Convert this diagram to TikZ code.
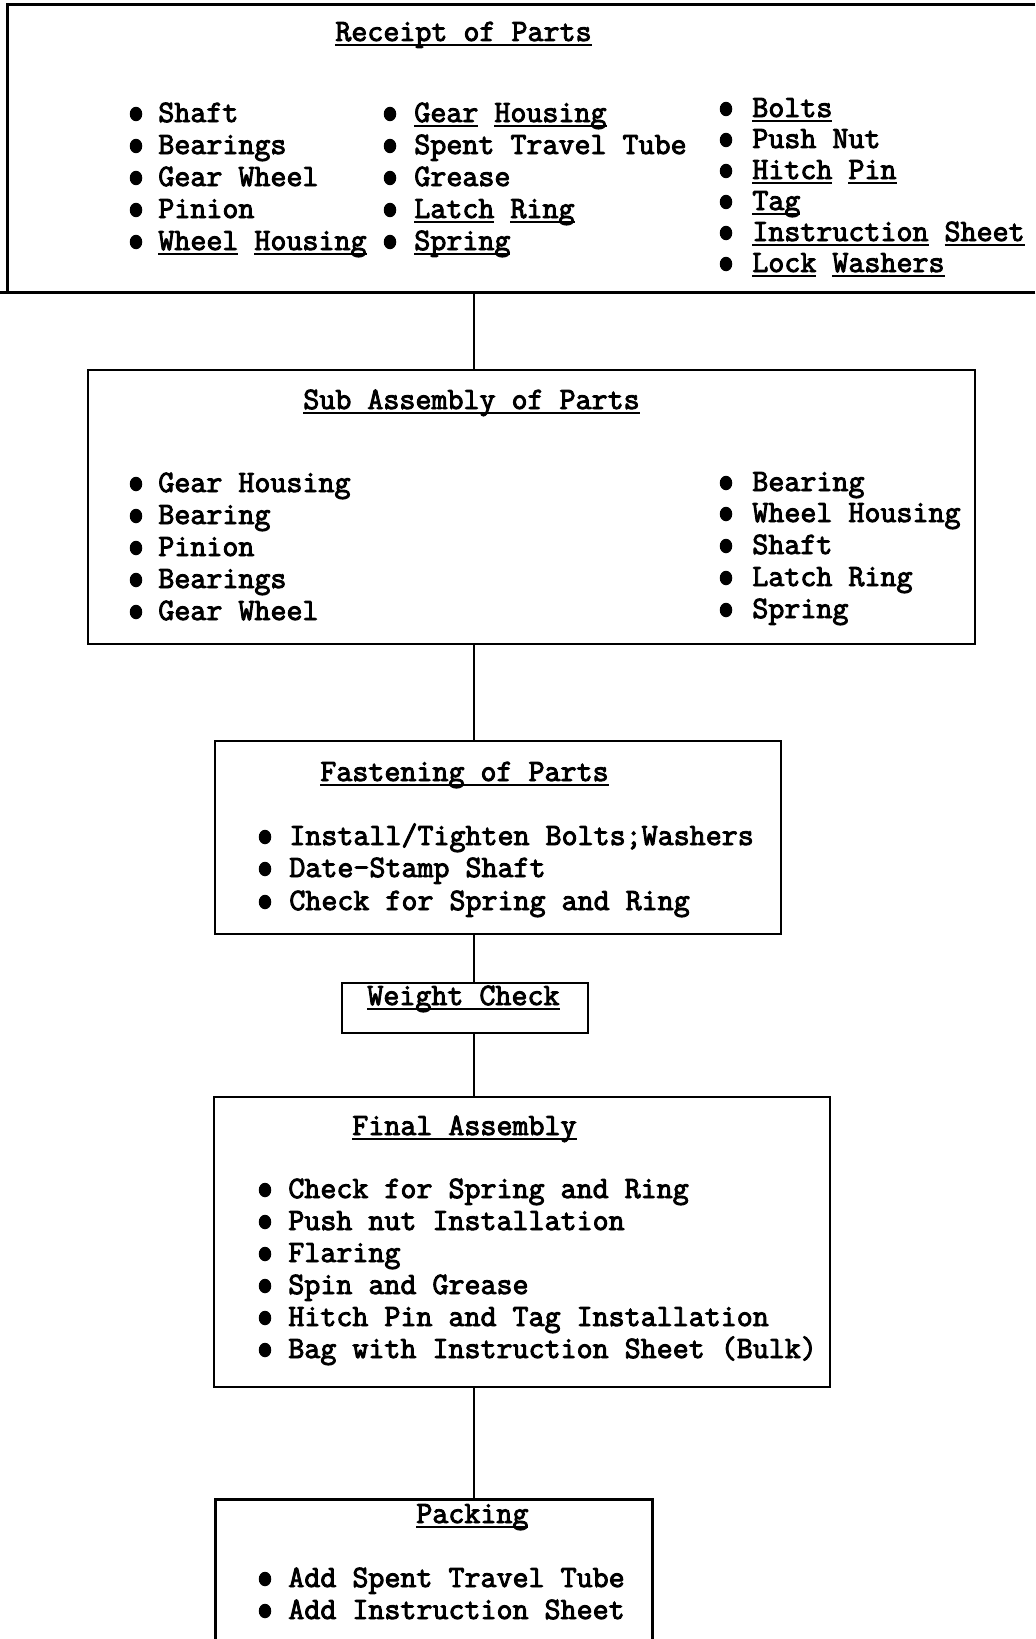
\documentclass[tikz,border=0pt]{standalone}
\usepackage{fontspec}
\setmonofont{lmmono12-regular.otf}[FakeBold=3]
\usepackage{tikz}
\usetikzlibrary{fit,shapes.geometric}

\newcommand\undr[1]{\setbox0\hbox{#1}\rlap{\rule[-3.1pt]{\wd0}{1.3pt}}#1}

\tikzset{
  box/.style={draw, line width=1.6pt, inner sep=0pt},
  frame/.style={inner sep=0pt},
  wire/.style={line width=1.5pt},
  txt/.style={anchor=base west, inner sep=0pt, font=\ttfamily\fontsize{17.7pt}{20pt}\selectfont},
  bul/.style={ellipse, fill, inner sep=0pt, minimum width=0.25cm, minimum height=0.29cm},
}

\begin{document}
\begin{tikzpicture}[x=0.02cm, y=-0.02cm]
\useasboundingbox (0,0) rectangle (1035,1639);
\coordinate (spine) at (474,0);

% boxes
\node[frame, fit={(8,5) (1035,292)}] (receipt) {};
\draw[line width=1.6pt] (receipt.north east) -- (receipt.north west) -- (receipt.south west);
\draw[line width=1.6pt] (receipt.south east) -- (receipt.south west) -- ++(-8,0);
\node[box, fit={(88,370) (975,644)}] (sub) {};
\node[box, fit={(215,741) (781,934)}] (fasten) {};
\node[box, fit={(342,983) (588,1033)}] (weight) {};
\node[box, fit={(214,1097) (830,1387)}] (final) {};
\node[frame, fit={(216,1500) (652,1639)}] (packing) {};
\draw[line width=1.6pt] (packing.south west) -- (packing.north west) -- (packing.north east) -- (packing.south east);

% connectors
\draw[wire] (receipt.south -| spine) -- (sub.north -| spine);
\draw[wire] (sub.south -| spine) -- (fasten.north -| spine);
\draw[wire] (fasten.south -| spine) -- (weight.north -| spine);
\draw[wire] (weight.south -| spine) -- (final.north -| spine);
\draw[wire] (final.south -| spine) -- (packing.north -| spine);

% Receipt of Parts
\node[txt] (recT) at (335,41) {\undr{Receipt of Parts}};
\foreach \y/\t [count=\i] in {122/Shaft, 154/Bearings, 186/Gear Wheel, 218/Pinion, 250/{\undr{Wheel} \undr{Housing}}}{
  \node[bul] (recAb\i) at (136,\y-8) {};
  \node[txt] (recA\i) at (158,\y) {\t};
}
\foreach \y/\t [count=\i] in {122/{\undr{Gear} \undr{Housing}}, 154/Spent Travel Tube, 186/Grease, 218/{\undr{Latch} \undr{Ring}}, 250/{\undr{Spring}}}{
  \node[bul] (recBb\i) at (390,\y-8) {};
  \node[txt] (recB\i) at (414,\y) {\t};
}
\foreach \y/\t [count=\i] in {117/{\undr{Bolts}}, 148/Push Nut, 179/{\undr{Hitch} \undr{Pin}}, 210/{\undr{Tag}}, 241/{\undr{Instruction} \undr{Sheet}}, 272/{\undr{Lock} \undr{Washers}}}{
  \node[bul] (recCb\i) at (726,\y-8) {};
  \node[txt] (recC\i) at (752,\y) {\t};
}

% Sub Assembly of Parts
\node[txt] (subT) at (303,409) {\undr{Sub Assembly of Parts}};
\foreach \y/\t [count=\i] in {492/Gear Housing, 524/Bearing, 556/Pinion, 588/Bearings, 620/Gear Wheel}{
  \node[bul] (subAb\i) at (136,\y-8) {};
  \node[txt] (subA\i) at (158,\y) {\t};
}
\foreach \y/\t [count=\i] in {491/Bearing, 522/Wheel Housing, 554/Shaft, 586/Latch Ring, 618/Spring}{
  \node[bul] (subBb\i) at (726,\y-8) {};
  \node[txt] (subB\i) at (752,\y) {\t};
}

% Fastening of Parts
\node[txt] (fasT) at (320,781) {\undr{Fastening of Parts}};
\foreach \y/\t [count=\i] in {845/{Install/Tighten Bolts;Washers}, 877/Date-Stamp Shaft, 910/Check for Spring and Ring}{
  \node[bul] (fasb\i) at (265,\y-8) {};
  \node[txt] (fas\i) at (289,\y) {\t};
}

% Weight Check
\node[txt] (wgtT) at (367,1005) {\undr{Weight Check}};

% Final Assembly
\node[txt] (finT) at (352,1135) {\undr{Final Assembly}};
\foreach \y/\t [count=\i] in {1198/Check for Spring and Ring, 1230/Push nut Installation, 1262/Flaring, 1294/Spin and Grease, 1326/Hitch Pin and Tag Installation, 1358/Bag with Instruction Sheet (Bulk)}{
  \node[bul] (finb\i) at (265,\y-8) {};
  \node[txt] (fin\i) at (288,\y) {\t};
}

% Packing
\node[txt] (pakT) at (416,1523) {\undr{Packing}};
\foreach \y/\t [count=\i] in {1587/Add Spent Travel Tube, 1619/Add Instruction Sheet}{
  \node[bul] (pakb\i) at (265,\y-8) {};
  \node[txt] (pak\i) at (288,\y) {\t};
}
\end{tikzpicture}
\end{document}
